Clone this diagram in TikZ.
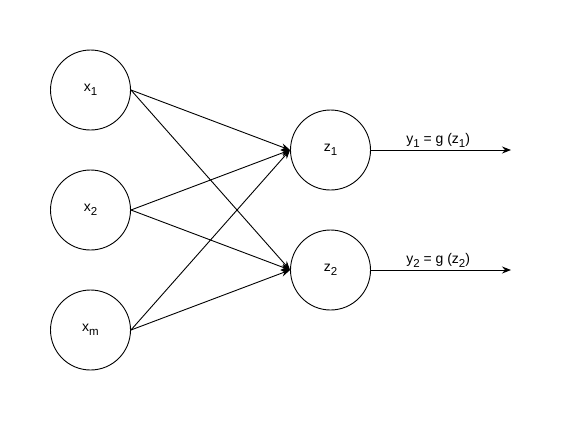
\documentclass[tikz,border=0pt]{standalone}
\usepackage{fontspec}
\setmainfont{Liberation Sans}
\usetikzlibrary{arrows.meta}
\newcommand{\sbs}[1]{\raisebox{-0.28em}{\fontsize{11.5}{12}\selectfont #1}}
\begin{document}
\begin{tikzpicture}[x=1pt,y=-1pt,
  neuron/.style={draw, circle, minimum size=80pt, inner sep=0pt, line width=0.9pt, font=\fontsize{14}{16}\selectfont},
  conn/.style={line width=0.9pt, -{Stealth[length=9pt,width=7pt,inset=3pt]}},
  lbl/.style={font=\fontsize{14}{16}\selectfont, inner sep=1pt}]
\useasboundingbox (0,0) rectangle (569,421);
\node[neuron] (x1) at (90.5,90) {x\sbs{1}};
\node[neuron] (x2) at (90.5,210) {x\sbs{2}};
\node[neuron] (xm) at (90.5,330) {x\sbs{m}};
\node[neuron] (z1) at (330.5,150) {z\sbs{1}};
\node[neuron] (z2) at (330.5,270) {z\sbs{2}};
\coordinate (o1) at (511,150);
\coordinate (o2) at (511,270);
\foreach \s in {x1,x2,xm}{
  \foreach \t in {z1,z2}{
    \draw[conn] (\s.east) -- (\t.west);
  }
}
\draw[conn] (z1.east) -- node[lbl, above, pos=0.48, yshift=1pt] {y\sbs{1} = g (z\sbs{1})} (o1);
\draw[conn] (z2.east) -- node[lbl, above, pos=0.48, yshift=1pt] {y\sbs{2} = g (z\sbs{2})} (o2);
\end{tikzpicture}
\end{document}
